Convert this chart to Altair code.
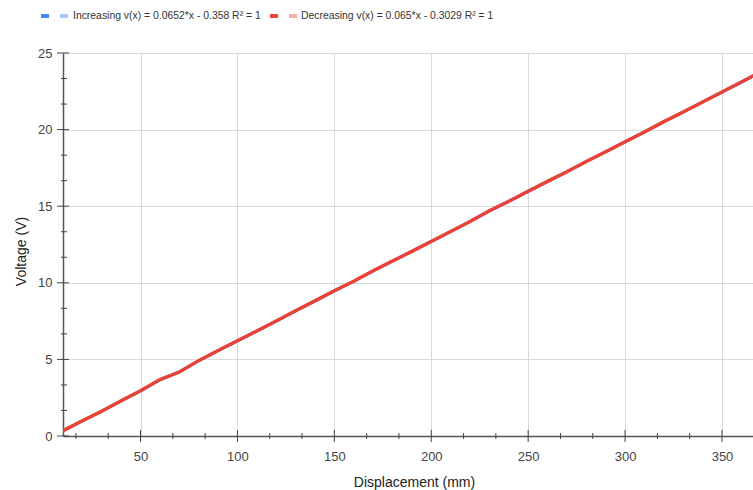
import altair as alt
import pandas as pd
import numpy as np

# ---- data ----
displacement = [10, 20, 30, 40, 50, 60, 70, 80, 90, 100, 110, 120, 130, 140, 150, 160, 170, 180, 190,
                200, 210, 220, 230, 240, 250, 260, 270, 280, 290, 300, 310, 320, 330, 340, 350, 360, 370]
increasing = [0.34, 0.99, 1.62, 2.29, 2.94, 3.66, 4.18, 4.91, 5.57, 6.21, 6.85, 7.50, 8.17, 8.82, 9.47,
              10.10, 10.77, 11.42, 12.05, 12.70, 13.35, 14.00, 14.69, 15.32, 15.97, 16.62, 17.25, 17.92,
              18.55, 19.20, 19.85, 20.51, 21.15, 21.80, 22.45, 23.10, 23.77]
decreasing = [0.35, 1.00, 1.62, 2.30, 2.95, 3.68, 4.18, 4.92, 5.58, 6.22, 6.85, 7.50, 8.18, 8.82, 9.48,
              10.10, 10.78, 11.42, 12.05, 12.70, 13.35, 14.00, 14.70, 15.32, 15.97, 16.62, 17.25, 17.92,
              18.55, 19.20, 19.85, 20.52, 21.15, 21.80, 22.45, 23.10, 23.78]

series_names = ["Increasing", "Decreasing"]
legend_labels = ["Increasing v(x) = 0.0652*x - 0.358 R\u00b2 = 1",
                 "Decreasing  v(x) = 0.065*x - 0.3029 R\u00b2 = 1"]
x_ticks = [50, 100, 150, 200, 250, 300, 350]
y_ticks = [0, 5, 10, 15, 20, 25]
x_domain = [10, 366]
y_domain = [0, 25]

x_minor = [v for v in np.arange(50 / 3, 366, 50 / 3).round(3).tolist() if abs(v / 50 - round(v / 50)) > 1e-6]
y_minor = [v for v in np.arange(5 / 3, 25, 5 / 3).round(3).tolist() if abs(v / 5 - round(v / 5)) > 1e-6]

BLUE = "#4285f4"
LIGHT_BLUE = "#a8c7fa"
RED = "#ea4335"
PINK = "#f4b0aa"
FONT = "Liberation Sans"

inc_df = pd.DataFrame({"x": displacement, "v": increasing})
dec_df = pd.DataFrame({"x": displacement, "v": decreasing})

xs = alt.Scale(domain=x_domain, nice=False, zero=False)
ys = alt.Scale(domain=y_domain, nice=False)

x_axis = alt.Axis(values=x_ticks, title="Displacement (mm)", grid=True, gridColor="#d9d9d9",
                  ticks=False, tickSize=0, labelPadding=14, labelFontSize=13, labelColor="#444",
                  labelFont=FONT, titleFont=FONT, titleFontSize=14, titleFontWeight="normal",
                  titleColor="#222", titleX=351, titleY=46, titleBaseline="middle",
                  domainColor="#555", domainWidth=1.5)
y_axis = alt.Axis(values=y_ticks, title="Voltage (V)", grid=True, gridColor="#d9d9d9",
                  ticks=False, tickSize=0, labelPadding=11, labelFontSize=13, labelColor="#444",
                  labelFont=FONT, titleFont=FONT, titleFontSize=14, titleFontWeight="normal",
                  titleColor="#222", titleX=-42, titleY=198, titleBaseline="middle", titleAngle=-90,
                  titleAlign="center", domainColor="#555", domainWidth=1.5)

inc_line = alt.Chart(inc_df).mark_line(color=BLUE, strokeWidth=3, clip=True).encode(
    x=alt.X("x:Q", scale=xs, axis=x_axis),
    y=alt.Y("v:Q", scale=ys, axis=y_axis),
)
dec_line = alt.Chart(dec_df).mark_line(color=RED, strokeWidth=3.4, clip=True).encode(
    x=alt.X("x:Q", scale=xs),
    y=alt.Y("v:Q", scale=ys),
)

H = 383
xmaj = alt.Chart(pd.DataFrame({"t": x_ticks})).mark_rule(color="#444", strokeWidth=1).encode(
    x=alt.X("t:Q", scale=xs), y=alt.value(H - 6), y2=alt.value(H + 6))
xmin = alt.Chart(pd.DataFrame({"t": x_minor})).mark_rule(color="#444", strokeWidth=1).encode(
    x=alt.X("t:Q", scale=xs), y=alt.value(H - 3), y2=alt.value(H + 3))
ymaj = alt.Chart(pd.DataFrame({"t": y_ticks})).mark_rule(color="#444", strokeWidth=1).encode(
    y=alt.Y("t:Q", scale=ys), x=alt.value(-6), x2=alt.value(6))
ymin = alt.Chart(pd.DataFrame({"t": y_minor})).mark_rule(color="#444", strokeWidth=1).encode(
    y=alt.Y("t:Q", scale=ys), x=alt.value(-2), x2=alt.value(4))

one = pd.DataFrame({"a": [0]})
LY = -37


def swatch(x0, color):
    return alt.Chart(one).mark_rule(color=color, strokeWidth=4).encode(
        x=alt.value(x0), x2=alt.value(x0 + 8), y=alt.value(LY))


def label(x0, txt):
    return alt.Chart(one).mark_text(align="left", baseline="middle", font=FONT,
                                    fontSize=10.4, color="#333").encode(
        x=alt.value(x0), y=alt.value(LY), text=alt.value(txt))


legend = alt.layer(
    swatch(-22, BLUE), swatch(-3, LIGHT_BLUE), label(10, legend_labels[0]),
    swatch(207, RED), swatch(226, PINK), label(238, legend_labels[1]),
)

chart = alt.layer(inc_line, dec_line, xmaj, xmin, ymaj, ymin, legend).properties(
    width=690, height=H,
    padding={"left": 63, "top": 53, "right": 0, "bottom": 54},
    autosize=alt.AutoSizeParams(type="none"),
).configure_view(stroke=None).configure(background="white")

chart.save("out.html", embed_options={"renderer": "svg", "actions": False})
